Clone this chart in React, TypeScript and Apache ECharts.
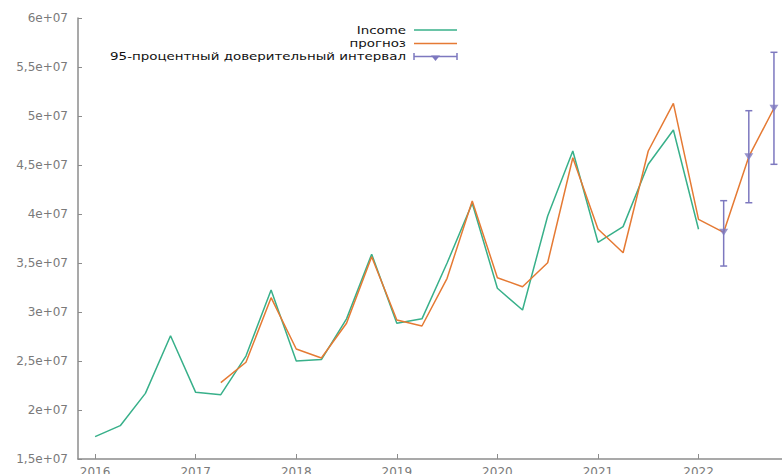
import React, { useEffect, useRef } from "react";
import * as echarts from "echarts";

// Quarterly time points (decimal years)
const incomeTimes = [
  2016.0, 2016.25, 2016.5, 2016.75, 2017.0, 2017.25, 2017.5, 2017.75,
  2018.0, 2018.25, 2018.5, 2018.75, 2019.0, 2019.25, 2019.5, 2019.75,
  2020.0, 2020.25, 2020.5, 2020.75, 2021.0, 2021.25, 2021.5, 2021.75, 2022.0,
];
const income = [
  1.728e7, 1.84e7, 2.17e7, 2.758e7, 2.18e7, 2.156e7, 2.55e7, 3.224e7,
  2.5e7, 2.515e7, 2.93e7, 3.59e7, 2.885e7, 2.93e7, 3.5e7, 4.109e7,
  3.242e7, 3.02e7, 3.98e7, 4.643e7, 3.711e7, 3.871e7, 4.507e7, 4.857e7, 3.844e7,
];

const forecastTimes = [
  2017.25, 2017.5, 2017.75, 2018.0, 2018.25, 2018.5, 2018.75, 2019.0,
  2019.25, 2019.5, 2019.75, 2020.0, 2020.25, 2020.5, 2020.75, 2021.0,
  2021.25, 2021.5, 2021.75, 2022.0, 2022.25, 2022.5, 2022.75,
];
const forecast = [
  2.279e7, 2.487e7, 3.146e7, 2.622e7, 2.53e7, 2.885e7, 3.564e7, 2.918e7,
  2.857e7, 3.344e7, 4.133e7, 3.35e7, 3.258e7, 3.503e7, 4.574e7, 3.847e7,
  3.605e7, 4.643e7, 5.129e7, 3.946e7, 3.813e7, 4.585e7, 5.079e7,
];

const ciTimes = [2022.25, 2022.5, 2022.75];
const ciLow = [3.469e7, 4.115e7, 4.507e7];
const ciHigh = [4.136e7, 5.054e7, 5.65e7];

const yearTicks = [2016, 2017, 2018, 2019, 2020, 2021, 2022];

const legendLabels = ["Income", "прогноз", "95-процентный доверительный интервал"];

const GREEN = "#38b08a";
const ORANGE = "#e57a34";
const PURPLE = "#7d78bf";
const FONT = "DejaVu Sans";

export default function App() {
  const ref = useRef<HTMLDivElement>(null);

  useEffect(() => {
    if (!ref.current) return;
    const chart = echarts.init(ref.current, undefined, { renderer: "svg" });

    const incomeData = incomeTimes.map((t, i) => [t, income[i]]);
    const forecastData = forecastTimes.map((t, i) => [t, forecast[i]]);
    const ciData = ciTimes.map((t, i) => [t, ciLow[i], ciHigh[i]]);
    const markerData = ciTimes.map((t) => [t, forecast[forecastTimes.indexOf(t)]]);

    const legendRight = 406;
    const sampleX1 = 414;
    const sampleX2 = 457;
    const legendY = [30, 43.5, 56.5];

    const legendGraphics: any[] = [];
    legendLabels.forEach((label, i) => {
      legendGraphics.push({
        type: "text",
        x: legendRight,
        y: legendY[i],
        scaleX: 1.22,
        style: {
          text: label,
          font: `11px "${FONT}"`,
          fill: "#111",
          align: "right",
          verticalAlign: "middle",
        },
      });
    });
    legendGraphics.push(
      { type: "line", shape: { x1: sampleX1, y1: legendY[0], x2: sampleX2, y2: legendY[0] }, style: { stroke: GREEN, lineWidth: 1.5 } },
      { type: "line", shape: { x1: sampleX1, y1: legendY[1], x2: sampleX2, y2: legendY[1] }, style: { stroke: ORANGE, lineWidth: 1.5 } },
      { type: "line", shape: { x1: sampleX1, y1: legendY[2], x2: sampleX2, y2: legendY[2] }, style: { stroke: PURPLE, lineWidth: 1.5 } },
      { type: "line", shape: { x1: sampleX1, y1: legendY[2] - 3.5, x2: sampleX1, y2: legendY[2] + 3.5 }, style: { stroke: PURPLE, lineWidth: 1.5 } },
      { type: "line", shape: { x1: sampleX2, y1: legendY[2] - 3.5, x2: sampleX2, y2: legendY[2] + 3.5 }, style: { stroke: PURPLE, lineWidth: 1.5 } },
      {
        type: "polygon",
        shape: {
          points: [
            [(sampleX1 + sampleX2) / 2 - 4.5, legendY[2] - 1],
            [(sampleX1 + sampleX2) / 2 + 4.5, legendY[2] - 1],
            [(sampleX1 + sampleX2) / 2, legendY[2] + 4.5],
          ],
        },
        style: { fill: PURPLE },
      }
    );

    chart.setOption({
      animation: false,
      backgroundColor: "#fff",
      grid: {
        left: 78,
        right: 0,
        top: 18,
        bottom: 15,
        containLabel: false,
        outerBoundsMode: "none",
      },
      xAxis: {
        type: "value",
        min: 2015.83,
        max: 2022.83,
        splitLine: { show: false },
        axisLine: { lineStyle: { color: "#8c8c8c", width: 1.5 } },
        axisTick: {
          inside: true,
          length: 5,
          customValues: yearTicks,
          lineStyle: { color: "#8c8c8c" },
        },
        axisLabel: {
          customValues: yearTicks,
          margin: 7,
          color: "#7a7a7a",
          fontFamily: FONT,
          fontSize: 12,
          formatter: (v: number) => String(Math.round(v)),
        },
      },
      yAxis: {
        type: "value",
        min: 1.5e7,
        max: 6e7,
        interval: 5e6,
        splitLine: { show: false },
        axisLine: { show: true, lineStyle: { color: "#8c8c8c", width: 1.5 } },
        axisTick: { show: true, inside: true, length: 4, lineStyle: { color: "#8c8c8c" } },
        axisLabel: {
          margin: 10,
          color: "#7a7a7a",
          fontFamily: FONT,
          fontSize: 12,
          formatter: (v: number) => {
            const m = Math.round((v / 1e7) * 100) / 100;
            return String(m).replace(".", ",") + "e+07";
          },
        },
      },
      series: [
        {
          name: "Income",
          type: "line",
          data: incomeData,
          showSymbol: false,
          lineStyle: { color: GREEN, width: 1.5 },
          itemStyle: { color: GREEN },
          z: 2,
        },
        {
          name: "прогноз",
          type: "line",
          data: forecastData,
          showSymbol: false,
          lineStyle: { color: ORANGE, width: 1.5 },
          itemStyle: { color: ORANGE },
          z: 3,
        },
        {
          name: "95-процентный доверительный интервал",
          type: "custom",
          data: ciData,
          encode: { x: 0, y: [1, 2] },
          z: 4,
          renderItem: (params: any, api: any) => {
            const x = api.value(0);
            const lo = api.coord([x, api.value(1)]);
            const hi = api.coord([x, api.value(2)]);
            const hw = 3.5;
            const style = { stroke: PURPLE, lineWidth: 1.5 };
            return {
              type: "group",
              children: [
                { type: "line", shape: { x1: lo[0], y1: lo[1], x2: hi[0], y2: hi[1] }, style },
                { type: "line", shape: { x1: lo[0] - hw, y1: lo[1], x2: lo[0] + hw, y2: lo[1] }, style },
                { type: "line", shape: { x1: hi[0] - hw, y1: hi[1], x2: hi[0] + hw, y2: hi[1] }, style },
              ],
            };
          },
        },
        {
          name: "ci-marker",
          type: "scatter",
          data: markerData,
          symbol: "triangle",
          symbolRotate: 180,
          symbolSize: [9, 7],
          itemStyle: { color: PURPLE },
          z: 5,
        },
      ],
      graphic: legendGraphics,
    });

    return () => chart.dispose();
  }, []);

  return (
    <div
      ref={ref}
      style={{ position: "absolute", left: 0, top: 0, width: 782, height: 474 }}
    />
  );
}
